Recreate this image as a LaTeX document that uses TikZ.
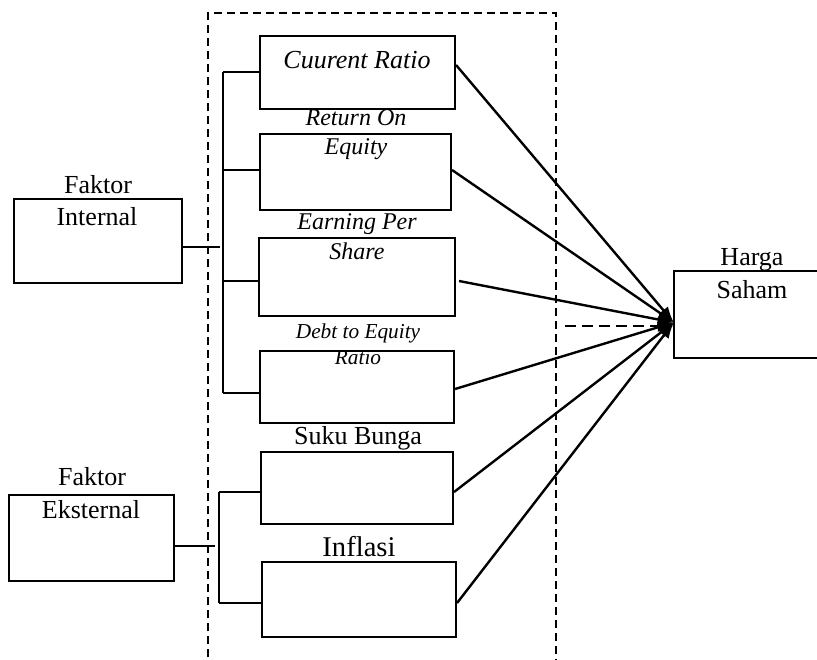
\documentclass[tikz,border=0pt]{standalone}
\usepackage{fontspec}
\setmainfont{Liberation Serif}
\usetikzlibrary{arrows.meta}
\begin{document}
\begin{tikzpicture}[x=1pt,y=-1pt,
  box/.style={draw,line width=2.1pt,rectangle,inner sep=0pt},
  lbl/.style={anchor=base,inner sep=0pt,font=\fontsize{26}{31}\selectfont},
  ilbl/.style={anchor=base,inner sep=0pt,font=\fontsize{24}{29}\selectfont\itshape},
  brk/.style={line width=1.9pt},
  arr/.style={line width=2.4pt,-{Latex[length=16pt,width=12pt]}},
  grp/.style={line width=1.8pt,dash pattern=on 8pt off 5pt}
]
\useasboundingbox (0,0) rectangle (817,659);
% dashed group frame (open at the bottom)
\draw[grp] (208,670) -- (208,13) -- (556,13) -- (556,670);

% boxes
\node[box,minimum width=195,minimum height=73] (cr)  at (357.5,72.5) {};
\node[box,minimum width=191,minimum height=76] (roe) at (355.5,172) {};
\node[box,minimum width=196,minimum height=78] (eps) at (357,277) {};
\node[box,minimum width=194,minimum height=72] (der) at (357,387) {};
\node[box,minimum width=192,minimum height=72] (sb)  at (357,488) {};
\node[box,minimum width=194,minimum height=75] (inf) at (359,599.5) {};
\node[box,minimum width=168,minimum height=84] (fi)  at (98,241) {};
\node[box,minimum width=165,minimum height=86] (fe)  at (91.5,538) {};
\node[inner sep=0pt,minimum width=143,minimum height=87] (hs) at (745.5,314.5) {};
\draw[line width=2.1pt] (hs.north east) -- (hs.north west) -- (hs.south west) -- (hs.south east);

% labels
\node[ilbl,font=\fontsize{26}{31}\selectfont\itshape] (tcr) at (357,68) {Cuurent Ratio};
\node[ilbl] (troe1) at (356,125) {Return On};
\node[ilbl] (troe2) at (356,154) {Equity};
\node[ilbl] (teps1) at (357,229) {Earning Per};
\node[ilbl] (teps2) at (357,259) {Share};
\node[ilbl,font=\fontsize{21.3}{25}\selectfont\itshape] (tder1) at (358,338) {Debt to Equity};
\node[ilbl,font=\fontsize{21.3}{25}\selectfont\itshape] (tder2) at (358,364) {Ratio};
\node[lbl] (tsb) at (358,444) {Suku Bunga};
\node[lbl,font=\fontsize{28.6}{33}\selectfont] (tinf) at (359,556) {Inflasi};
\node[lbl] (tfi1) at (98,193) {Faktor};
\node[lbl] (tfi2) at (97,225) {Internal};
\node[lbl] (tfe1) at (92,485) {Faktor};
\node[lbl] (tfe2) at (91,518) {Eksternal};
\node[lbl] (ths1) at (752,265) {Harga};
\node[lbl] (ths2) at (752,298) {Saham};

% internal bracket
\coordinate (b1) at (223,72);
\coordinate (b2) at (223,170);
\coordinate (b3) at (223,281);
\coordinate (b4) at (223,393);
\coordinate (bi) at (220,247);
\draw[brk] (b1) -- (b4);
\draw[brk] (b1) -- (b1 -| cr.west);
\draw[brk] (b2) -- (b2 -| roe.west);
\draw[brk] (b3) -- (b3 -| eps.west);
\draw[brk] (b4) -- (b4 -| der.west);
\draw[brk] (fi.east |- bi) -- (bi);

% external bracket
\coordinate (e1) at (219,492);
\coordinate (e2) at (219,603);
\coordinate (ei) at (215,546);
\draw[brk] (e1) -- (e2);
\draw[brk] (e1) -- (e1 -| sb.west);
\draw[brk] (e2) -- (e2 -| inf.west);
\draw[brk] (fe.east |- ei) -- (ei);

% arrows to Harga Saham
\coordinate (tip) at ([yshift=-8pt]hs.west);
\draw[arr] ([yshift=7.5pt]cr.east) -- (tip);
\draw[arr] ([yshift=2pt]roe.east) -- (tip);
\draw[arr] ([yshift=-4pt,xshift=3pt]eps.east) -- (tip);
\draw[arr] ([yshift=-2pt]der.east) -- (tip);
\draw[arr] ([yshift=-4pt]sb.east) -- (tip);
\draw[arr] ([yshift=-3.5pt]inf.east) -- (tip);
\coordinate (ds) at (565,326);
\draw[arr,dash pattern=on 11pt off 6pt,line width=2.6pt] (ds) -- (ds -| tip);
\end{tikzpicture}
\end{document}
